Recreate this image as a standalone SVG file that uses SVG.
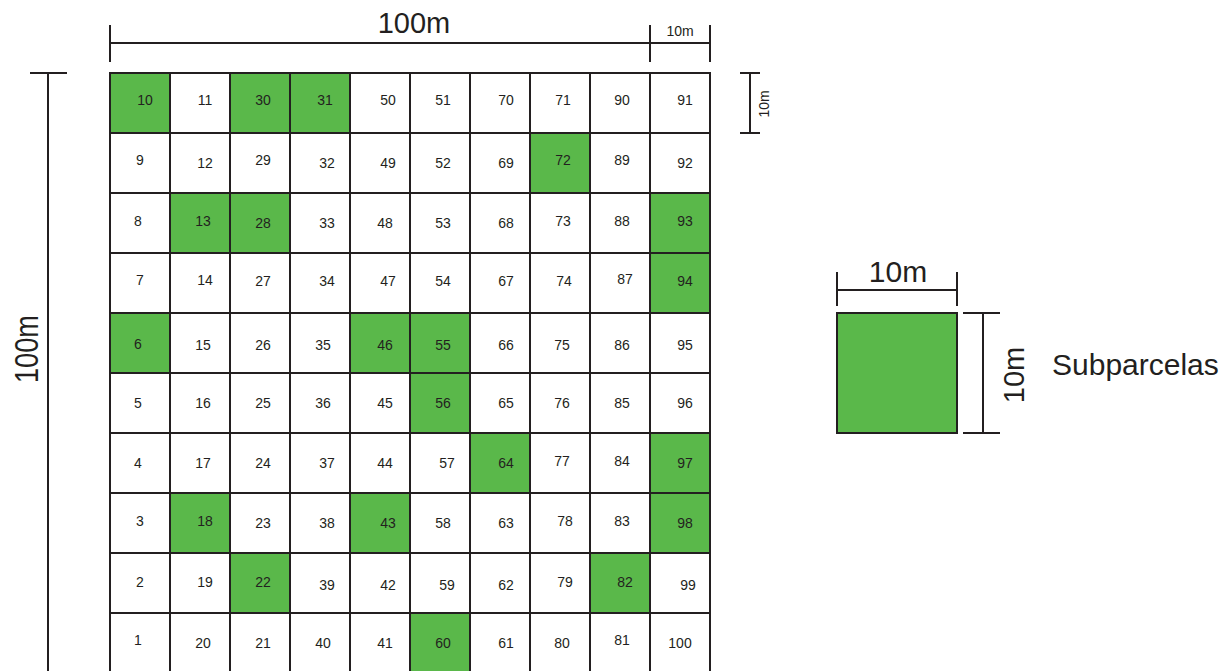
<svg xmlns="http://www.w3.org/2000/svg" width="1230" height="671" viewBox="0 0 1230 671">
<style>
.c{fill:#ffffff;stroke:#231f20;stroke-width:2}
.g{fill:#5ab84a;stroke:#231f20;stroke-width:2}
.n{font-family:"Liberation Sans",Arial,sans-serif;font-size:14px;fill:#231f20;text-anchor:middle}
.d{stroke:#231f20;stroke-width:2;fill:none}
.l{font-family:"Liberation Sans",Arial,sans-serif;fill:#231f20;text-anchor:middle}
</style>
<rect width="1230" height="671" fill="#ffffff"/>
<g id="dimensions">
<path class="d" d="M110 25V62M650 25V62M710 25V62M110 43H710"/>
<text class="l" x="414" y="33" font-size="29">100m</text>
<text class="l" x="680" y="36" font-size="14">10m</text>
<path class="d" d="M30 73H67M48 73V671"/>
<text class="l" font-size="34" transform="translate(38,349) rotate(-90) scale(0.8,1)">100m</text>
<path class="d" d="M740 73H760M740 133H760M750 73V133"/>
<text class="l" font-size="14" transform="translate(769,104) rotate(-90)">10m</text>
</g>
<g id="grid">
<g id="r1">
<rect class="g" x="110" y="73" width="60" height="60"/><text class="n" x="145" y="105">10</text>
<rect class="c" x="170" y="73" width="60" height="60"/><text class="n" x="205" y="105">11</text>
<rect class="g" x="230" y="73" width="60" height="60"/><text class="n" x="263" y="105">30</text>
<rect class="g" x="290" y="73" width="60" height="60"/><text class="n" x="325" y="105">31</text>
<rect class="c" x="350" y="73" width="60" height="60"/><text class="n" x="388" y="105">50</text>
<rect class="c" x="410" y="73" width="60" height="60"/><text class="n" x="443" y="105">51</text>
<rect class="c" x="470" y="73" width="60" height="60"/><text class="n" x="506" y="105">70</text>
<rect class="c" x="530" y="73" width="60" height="60"/><text class="n" x="563" y="105">71</text>
<rect class="c" x="590" y="73" width="60" height="60"/><text class="n" x="622" y="105">90</text>
<rect class="c" x="650" y="73" width="60" height="60"/><text class="n" x="685" y="105">91</text>
</g>
<g id="r2">
<rect class="c" x="110" y="133" width="60" height="60"/><text class="n" x="140" y="165">9</text>
<rect class="c" x="170" y="133" width="60" height="60"/><text class="n" x="205" y="168">12</text>
<rect class="c" x="230" y="133" width="60" height="60"/><text class="n" x="263" y="165">29</text>
<rect class="c" x="290" y="133" width="60" height="60"/><text class="n" x="327" y="168">32</text>
<rect class="c" x="350" y="133" width="60" height="60"/><text class="n" x="388" y="168">49</text>
<rect class="c" x="410" y="133" width="60" height="60"/><text class="n" x="443" y="168">52</text>
<rect class="c" x="470" y="133" width="60" height="60"/><text class="n" x="506" y="168">69</text>
<rect class="g" x="530" y="133" width="60" height="60"/><text class="n" x="563" y="165">72</text>
<rect class="c" x="590" y="133" width="60" height="60"/><text class="n" x="622" y="165">89</text>
<rect class="c" x="650" y="133" width="60" height="60"/><text class="n" x="685" y="168">92</text>
</g>
<g id="r3">
<rect class="c" x="110" y="193" width="60" height="60"/><text class="n" x="138" y="226">8</text>
<rect class="g" x="170" y="193" width="60" height="60"/><text class="n" x="203" y="226">13</text>
<rect class="g" x="230" y="193" width="60" height="60"/><text class="n" x="263" y="228">28</text>
<rect class="c" x="290" y="193" width="60" height="60"/><text class="n" x="327" y="228">33</text>
<rect class="c" x="350" y="193" width="60" height="60"/><text class="n" x="385" y="228">48</text>
<rect class="c" x="410" y="193" width="60" height="60"/><text class="n" x="443" y="228">53</text>
<rect class="c" x="470" y="193" width="60" height="60"/><text class="n" x="506" y="228">68</text>
<rect class="c" x="530" y="193" width="60" height="60"/><text class="n" x="563" y="226">73</text>
<rect class="c" x="590" y="193" width="60" height="60"/><text class="n" x="622" y="226">88</text>
<rect class="g" x="650" y="193" width="60" height="60"/><text class="n" x="685" y="226">93</text>
</g>
<g id="r4">
<rect class="c" x="110" y="253" width="60" height="60"/><text class="n" x="140" y="285">7</text>
<rect class="c" x="170" y="253" width="60" height="60"/><text class="n" x="205" y="285">14</text>
<rect class="c" x="230" y="253" width="60" height="60"/><text class="n" x="263" y="286">27</text>
<rect class="c" x="290" y="253" width="60" height="60"/><text class="n" x="327" y="286">34</text>
<rect class="c" x="350" y="253" width="60" height="60"/><text class="n" x="388" y="286">47</text>
<rect class="c" x="410" y="253" width="60" height="60"/><text class="n" x="443" y="286">54</text>
<rect class="c" x="470" y="253" width="60" height="60"/><text class="n" x="506" y="286">67</text>
<rect class="c" x="530" y="253" width="60" height="60"/><text class="n" x="564" y="286">74</text>
<rect class="c" x="590" y="253" width="60" height="60"/><text class="n" x="625" y="284">87</text>
<rect class="g" x="650" y="253" width="60" height="60"/><text class="n" x="685" y="286">94</text>
</g>
<g id="r5">
<rect class="g" x="110" y="313" width="60" height="60"/><text class="n" x="138" y="349">6</text>
<rect class="c" x="170" y="313" width="60" height="60"/><text class="n" x="203" y="350">15</text>
<rect class="c" x="230" y="313" width="60" height="60"/><text class="n" x="263" y="350">26</text>
<rect class="c" x="290" y="313" width="60" height="60"/><text class="n" x="323" y="350">35</text>
<rect class="g" x="350" y="313" width="60" height="60"/><text class="n" x="385" y="350">46</text>
<rect class="g" x="410" y="313" width="60" height="60"/><text class="n" x="443" y="350">55</text>
<rect class="c" x="470" y="313" width="60" height="60"/><text class="n" x="506" y="350">66</text>
<rect class="c" x="530" y="313" width="60" height="60"/><text class="n" x="562" y="350">75</text>
<rect class="c" x="590" y="313" width="60" height="60"/><text class="n" x="622" y="350">86</text>
<rect class="c" x="650" y="313" width="60" height="60"/><text class="n" x="685" y="350">95</text>
</g>
<g id="r6">
<rect class="c" x="110" y="373" width="60" height="60"/><text class="n" x="138" y="408">5</text>
<rect class="c" x="170" y="373" width="60" height="60"/><text class="n" x="203" y="408">16</text>
<rect class="c" x="230" y="373" width="60" height="60"/><text class="n" x="263" y="408">25</text>
<rect class="c" x="290" y="373" width="60" height="60"/><text class="n" x="323" y="408">36</text>
<rect class="c" x="350" y="373" width="60" height="60"/><text class="n" x="385" y="408">45</text>
<rect class="g" x="410" y="373" width="60" height="60"/><text class="n" x="443" y="408">56</text>
<rect class="c" x="470" y="373" width="60" height="60"/><text class="n" x="506" y="408">65</text>
<rect class="c" x="530" y="373" width="60" height="60"/><text class="n" x="562" y="408">76</text>
<rect class="c" x="590" y="373" width="60" height="60"/><text class="n" x="622" y="408">85</text>
<rect class="c" x="650" y="373" width="60" height="60"/><text class="n" x="685" y="408">96</text>
</g>
<g id="r7">
<rect class="c" x="110" y="433" width="60" height="60"/><text class="n" x="138" y="468">4</text>
<rect class="c" x="170" y="433" width="60" height="60"/><text class="n" x="203" y="468">17</text>
<rect class="c" x="230" y="433" width="60" height="60"/><text class="n" x="263" y="468">24</text>
<rect class="c" x="290" y="433" width="60" height="60"/><text class="n" x="327" y="468">37</text>
<rect class="c" x="350" y="433" width="60" height="60"/><text class="n" x="385" y="468">44</text>
<rect class="c" x="410" y="433" width="60" height="60"/><text class="n" x="447" y="468">57</text>
<rect class="g" x="470" y="433" width="60" height="60"/><text class="n" x="506" y="468">64</text>
<rect class="c" x="530" y="433" width="60" height="60"/><text class="n" x="562" y="466">77</text>
<rect class="c" x="590" y="433" width="60" height="60"/><text class="n" x="622" y="466">84</text>
<rect class="g" x="650" y="433" width="60" height="60"/><text class="n" x="685" y="468">97</text>
</g>
<g id="r8">
<rect class="c" x="110" y="493" width="60" height="60"/><text class="n" x="140" y="526">3</text>
<rect class="g" x="170" y="493" width="60" height="60"/><text class="n" x="205" y="526">18</text>
<rect class="c" x="230" y="493" width="60" height="60"/><text class="n" x="263" y="528">23</text>
<rect class="c" x="290" y="493" width="60" height="60"/><text class="n" x="327" y="528">38</text>
<rect class="g" x="350" y="493" width="60" height="60"/><text class="n" x="388" y="528">43</text>
<rect class="c" x="410" y="493" width="60" height="60"/><text class="n" x="443" y="528">58</text>
<rect class="c" x="470" y="493" width="60" height="60"/><text class="n" x="506" y="528">63</text>
<rect class="c" x="530" y="493" width="60" height="60"/><text class="n" x="565" y="526">78</text>
<rect class="c" x="590" y="493" width="60" height="60"/><text class="n" x="622" y="526">83</text>
<rect class="g" x="650" y="493" width="60" height="60"/><text class="n" x="685" y="528">98</text>
</g>
<g id="r9">
<rect class="c" x="110" y="553" width="60" height="60"/><text class="n" x="140" y="587">2</text>
<rect class="c" x="170" y="553" width="60" height="60"/><text class="n" x="205" y="587">19</text>
<rect class="g" x="230" y="553" width="60" height="60"/><text class="n" x="263" y="587">22</text>
<rect class="c" x="290" y="553" width="60" height="60"/><text class="n" x="327" y="590">39</text>
<rect class="c" x="350" y="553" width="60" height="60"/><text class="n" x="388" y="590">42</text>
<rect class="c" x="410" y="553" width="60" height="60"/><text class="n" x="447" y="590">59</text>
<rect class="c" x="470" y="553" width="60" height="60"/><text class="n" x="506" y="590">62</text>
<rect class="c" x="530" y="553" width="60" height="60"/><text class="n" x="565" y="587">79</text>
<rect class="g" x="590" y="553" width="60" height="60"/><text class="n" x="625" y="587">82</text>
<rect class="c" x="650" y="553" width="60" height="60"/><text class="n" x="688" y="590">99</text>
</g>
<g id="r10">
<rect class="c" x="110" y="613" width="60" height="60"/><text class="n" x="138" y="645">1</text>
<rect class="c" x="170" y="613" width="60" height="60"/><text class="n" x="203" y="648">20</text>
<rect class="c" x="230" y="613" width="60" height="60"/><text class="n" x="263" y="648">21</text>
<rect class="c" x="290" y="613" width="60" height="60"/><text class="n" x="323" y="648">40</text>
<rect class="c" x="350" y="613" width="60" height="60"/><text class="n" x="385" y="648">41</text>
<rect class="g" x="410" y="613" width="60" height="60"/><text class="n" x="443" y="648">60</text>
<rect class="c" x="470" y="613" width="60" height="60"/><text class="n" x="506" y="648">61</text>
<rect class="c" x="530" y="613" width="60" height="60"/><text class="n" x="562" y="648">80</text>
<rect class="c" x="590" y="613" width="60" height="60"/><text class="n" x="622" y="645">81</text>
<rect class="c" x="650" y="613" width="60" height="60"/><text class="n" x="680" y="648">100</text>
</g>
</g>
<g id="legend">
<rect class="g" x="837" y="313" width="120" height="120"/>
<path class="d" d="M837 272V306M957 272V306M837 290H957"/>
<text class="l" x="898" y="282" font-size="30">10m</text>
<path class="d" d="M963 313H1000M963 433H1000M983 313V433"/>
<text class="l" font-size="29" transform="translate(1024,375) rotate(-90)">10m</text>
<text x="1052" y="375" font-family="'Liberation Sans',Arial,sans-serif" font-size="30" fill="#231f20">Subparcelas</text>
</g>
</svg>
